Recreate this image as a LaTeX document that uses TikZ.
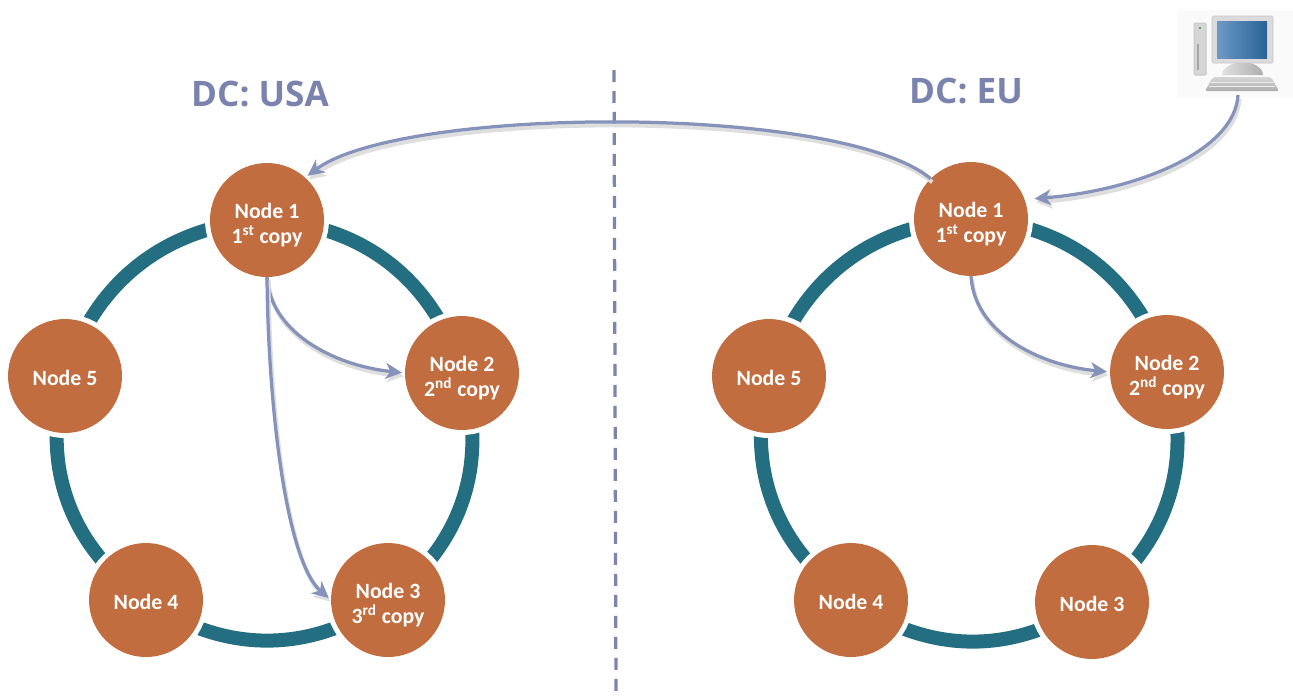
\documentclass[tikz,border=0pt]{standalone}
\usepackage{fontspec}
\setmainfont{Carlito}
\newfontfamily\titlefont{Open Sans}
\usetikzlibrary{arrows.meta,backgrounds}
\definecolor{nodeor}{HTML}{C16D3F}
\definecolor{ringteal}{HTML}{236E80}
\definecolor{arrowblue}{HTML}{8592B9}
\definecolor{titleblue}{HTML}{7A83AE}
\definecolor{dashblue}{HTML}{7C86AC}
\definecolor{shadowgray}{HTML}{DEDEDE}
\definecolor{screenlight}{HTML}{6C9AC6}
\definecolor{screendark}{HTML}{2A6296}
\newcommand{\liftrule}{\rule{0pt}{14.4pt}}
\tikzset{
  x=0.02cm,y=-0.02cm,
  dcnode/.style={circle,fill=nodeor,draw=none,minimum size=2.28cm,inner sep=0pt,outer sep=0pt,
    text=white,align=center,font=\fontsize{12.4}{13.9}\selectfont\bfseries,
    preaction={draw=white,line width=0.2cm}},
  ringarc/.style={draw=ringteal,line width=0.28cm,line cap=butt,bend left=35},
  flow/.style={draw=arrowblue,line width=0.065cm,shorten >=0.06cm,-{Stealth[length=0.33cm,width=0.32cm,inset=0.1cm]},
    preaction={draw=shadowgray,line width=0.08cm,transform canvas={shift={(0.03cm,-0.07cm)}}}},
  dctitle/.style={text=titleblue,font=\titlefont\fontsize{20}{22}\selectfont\bfseries,inner sep=0pt},
  divider/.style={draw=dashblue,line width=0.065cm,dash pattern=on 0.24cm off 0.18cm},
}
\begin{document}
\begin{tikzpicture}
\useasboundingbox (0,0) rectangle (1293,697);

% titles
\node[dctitle] (tusa) at (260,94) {DC: USA};
\node[dctitle] (teu) at (966,91) {DC: EU};

% USA nodes
\node[dcnode] (u1) at (267,220) {\liftrule Node 1\\1\textsuperscript{st} copy};
\node[dcnode] (u2) at (462,373) {\liftrule Node 2\\2\textsuperscript{nd} copy};
\node[dcnode] (u3) at (388,600) {\liftrule Node 3\\3\textsuperscript{rd} copy};
\node[dcnode] (u4) at (146,600) {\rule{0pt}{11pt}Node 4};
\node[dcnode] (u5) at (65,376) {\rule{0pt}{11pt}Node 5};

% EU nodes
\node[dcnode] (e1) at (971,219) {\liftrule Node 1\\1\textsuperscript{st} copy};
\node[dcnode] (e2) at (1167,372) {\liftrule Node 2\\2\textsuperscript{nd} copy};
\node[dcnode] (e3) at (1092,602) {\rule{0pt}{11pt}Node 3};
\node[dcnode] (e4) at (851,600) {\rule{0pt}{11pt}Node 4};
\node[dcnode] (e5) at (769,376) {\rule{0pt}{11pt}Node 5};

% rings, behind the nodes and their white halos
\begin{scope}[on background layer]
\foreach \a/\b in {u1/u2,u2/u3,u3/u4,u4/u5,u5/u1,e1/e2,e2/e3,e3/e4,e4/e5,e5/e1}
  \draw[ringarc] (\a.center) to (\b.center);
\end{scope}

% divider
\coordinate (dtop) at (614,70);
\coordinate (dbot) at (616,697);
\draw[divider] (dtop) -- (dbot);

% computer
\fill[black!2] (1178,10) rectangle (1293,97);
\draw[black!22,fill=black!16,line width=0.02cm,rounded corners=0.02cm] (1194,23) rectangle (1206,75);
\fill[black!35] (1197,44) rectangle (1199,70);
\fill[green!40!gray] (1199,27) rectangle (1201,29);
\draw[black!22,fill=black!14,rounded corners=0.03cm] (1212,16) rectangle (1273,63);
\shade[left color=black!12,right color=black!32] (1222,75) .. controls (1222,68) and (1232,63) .. (1238,63) -- (1248,63) .. controls (1254,63) and (1263,68) .. (1263,75) -- cycle;
\shade[top color=black!16,bottom color=black!32,rounded corners=0.04cm] (1213,77) -- (1271,77) -- (1279,91) -- (1205,91) -- cycle;
\draw[black!8] (1211,82) -- (1273,82) (1209,86) -- (1275,86);
\shade[shading angle=135,left color=screenlight,right color=screendark] (1217,21) rectangle (1267,58);
\coordinate (pc) at (1238,95);

% flows
\draw[flow] (e1.135) .. controls (840,103) and (400,106) .. (u1.48);
\draw[flow,shorten >=0.2cm] (pc) .. controls (1235,150) and (1140,190) .. (e1.20);
\draw[flow] (u1.270) .. controls (270,330) and (330,365) .. (u2.180);
\draw[flow] (u1.270) .. controls (268,400) and (285,560) .. (u3.180);
\draw[flow] (e1.270) .. controls (974,330) and (1035,365) .. (e2.180);
\end{tikzpicture}
\end{document}
